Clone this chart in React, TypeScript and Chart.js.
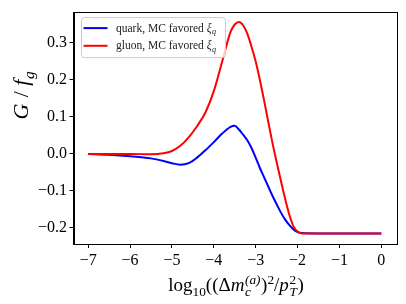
import React, { useEffect, useRef } from "react";
import { Chart, registerables } from "chart.js";

Chart.register(...registerables);

const xs = [-7, -6.5, -6, -5.5, -5.2, -5, -4.8, -4.6, -4.4, -4.2, -4, -3.8, -3.6, -3.5, -3.4, -3.3, -3.2, -3.1, -3.0, -2.9, -2.8, -2.7, -2.6, -2.5, -2.4, -2.3, -2.2, -2.1, -2.0, -1.9, -1.5, -1, -0.5, 0];
const quarkY = [0, -0.002, -0.006, -0.012, -0.019, -0.025, -0.029, -0.025, -0.010, 0.010, 0.032, 0.055, 0.073, 0.076, 0.066, 0.052, 0.037, 0.016, -0.010, -0.038, -0.063, -0.088, -0.113, -0.136, -0.158, -0.177, -0.192, -0.204, -0.211, -0.214, -0.215, -0.215, -0.215, -0.215];
const gluonY = [0, 0, 0, -0.001, 0.002, 0.008, 0.022, 0.045, 0.075, 0.112, 0.170, 0.250, 0.330, 0.350, 0.357, 0.348, 0.325, 0.290, 0.250, 0.200, 0.145, 0.087, 0.030, -0.022, -0.072, -0.120, -0.163, -0.195, -0.210, -0.215, -0.215, -0.215, -0.215, -0.215];
const seriesNames = ["quark, MC favored ", "gluon, MC favored "];
const seriesColors = ["#0000ff", "#ff0000"];
const xTicks = [-7, -6, -5, -4, -3, -2, -1, 0];
const yTicks = [-0.2, -0.1, 0, 0.1, 0.2, 0.3];

const SERIF = "'Liberation Serif', 'DejaVu Serif', serif";

type Run = { t: string; it?: boolean; pos?: "b" | "sub" | "sup"; stack?: boolean };

function runFont(r: Run, size: number) {
  const s = r.pos && r.pos !== "b" ? size * 0.7 : size;
  return `${r.it ? "italic " : ""}${s}px ${SERIF}`;
}
function runOffset(r: Run, size: number) {
  if (r.pos === "sub") return size * 0.25;
  if (r.pos === "sup") return -size * 0.38;
  return 0;
}
function layoutRuns(ctx: CanvasRenderingContext2D, runs: Run[], size: number) {
  const items: { r: Run; x: number }[] = [];
  let x = 0;
  let prevX = 0;
  let prevW = 0;
  for (const r of runs) {
    ctx.font = runFont(r, size);
    const w = ctx.measureText(r.t).width + (r.it ? size * 0.03 : 0);
    if (r.stack) {
      items.push({ r, x: prevX });
      const nw = Math.max(prevW, w);
      x = prevX + nw;
      prevW = nw;
    } else {
      items.push({ r, x });
      prevX = x;
      prevW = w;
      x += w;
    }
  }
  return { items, width: x };
}
function drawRuns(ctx: CanvasRenderingContext2D, runs: Run[], cx: number, cy: number, size: number, align: "center" | "left") {
  const { items, width } = layoutRuns(ctx, runs, size);
  const x0 = align === "center" ? cx - width / 2 : cx;
  ctx.textBaseline = "alphabetic";
  ctx.textAlign = "left";
  for (const it of items) {
    ctx.font = runFont(it.r, size);
    ctx.fillText(it.r.t, x0 + it.x, cy + runOffset(it.r, size));
  }
}

const xTitle: Run[] = [
  { t: "log" },
  { t: "10", pos: "sub" },
  { t: "((Δ" },
  { t: "m", it: true },
  { t: "c", it: true, pos: "sub" },
  { t: "(a)", it: true, pos: "sup", stack: true },
  { t: ")" },
  { t: "2", pos: "sup" },
  { t: "/" },
  { t: "p", it: true },
  { t: "T", it: true, pos: "sub" },
  { t: "2", pos: "sup", stack: true },
  { t: ")" },
];
const yTitle: Run[] = [
  { t: "G", it: true },
  { t: " / " },
  { t: "f", it: true },
  { t: "g", it: true, pos: "sub" },
];

const fmt = (v: number, d: number) => {
  const s = Math.abs(v).toFixed(d);
  return v < -1e-9 ? "\u2212" + s : s;
};

const decor = {
  id: "decor",
  afterDraw(chart: any) {
    const ctx: CanvasRenderingContext2D = chart.ctx;
    const a = chart.chartArea;
    ctx.save();
    ctx.strokeStyle = "#000";
    ctx.lineWidth = 1;
    ctx.strokeRect(Math.round(a.left) + 0.5, Math.round(a.top) + 0.5, Math.round(a.right - a.left), Math.round(a.bottom - a.top));
    ctx.fillStyle = "#000";
    drawRuns(ctx, xTitle, 236, 291, 19, "center");
    ctx.save();
    ctx.translate(28, 95);
    ctx.rotate(-Math.PI / 2);
    drawRuns(ctx, yTitle, 0, 0, 22, "center");
    ctx.restore();
    const lx = a.left + 7.5, ly = a.top + 5, lw = 144, lh = 40;
    ctx.beginPath();
    (ctx as any).roundRect(lx + 0.5, ly + 0.5, lw, lh, 3);
    ctx.fillStyle = "rgba(255,255,255,0.8)";
    ctx.fill();
    ctx.strokeStyle = "#cccccc";
    ctx.stroke();
    chart.data.datasets.forEach((ds: any, i: number) => {
      const y = ly + 11 + i * 17.7;
      ctx.strokeStyle = ds.borderColor;
      ctx.lineWidth = 2;
      ctx.beginPath();
      ctx.moveTo(lx + 2.5, y);
      ctx.lineTo(lx + 26.5, y);
      ctx.stroke();
      ctx.fillStyle = "#222";
      drawRuns(ctx, [{ t: ds.label }, { t: "ξ", it: true }, { t: "q", it: true, pos: "sub" }], lx + 35, y + 3.5, 11.5, "left");
    });
    ctx.restore();
  },
};

export default function App() {
  const ref = useRef<HTMLCanvasElement>(null);
  useEffect(() => {
    if (!ref.current) return;
    const chart = new Chart(ref.current, {
      type: "line",
      data: {
        datasets: [quarkY, gluonY].map((ys, i) => ({
          label: seriesNames[i],
          data: xs.map((x, j) => ({ x, y: ys[j] })),
          borderColor: seriesColors[i],
          backgroundColor: seriesColors[i],
          borderWidth: 2,
          pointRadius: 0,
          cubicInterpolationMode: "monotone" as const,
          fill: false,
          order: i === 0 ? 1 : 0,
        })),
      },
      options: {
        animation: false,
        responsive: false,
        devicePixelRatio: 1,
        layout: { padding: { top: 9.5, right: 10, left: 0, bottom: 0 } },
        plugins: { legend: { display: false }, tooltip: { enabled: false } },
        scales: {
          x: {
            type: "linear",
            min: -7.35,
            max: 0.35,
            afterBuildTicks: (s: any) => { s.ticks = xTicks.map((v) => ({ value: v })); },
            afterFit: (s: any) => { s.height = 60; },
            ticks: {
              callback: (v: any) => fmt(Number(v), 0),
              color: "#000",
              font: { family: SERIF, size: 16 },
              padding: 3,
              maxRotation: 0,
              autoSkip: false,
            },
            grid: { drawOnChartArea: false, drawTicks: true, tickLength: 4, color: "#000", tickColor: "#000" },
            border: { display: true, color: "#000" },
          },
          y: {
            type: "linear",
            min: -0.2435,
            max: 0.3835,
            afterBuildTicks: (s: any) => { s.ticks = yTicks.map((v) => ({ value: v })); },
            afterFit: (s: any) => { s.width = 73.5; },
            ticks: {
              callback: (v: any) => fmt(Number(v), 1),
              color: "#000",
              font: { family: SERIF, size: 16 },
              padding: 2.5,
              autoSkip: false,
            },
            grid: { drawOnChartArea: false, drawTicks: true, tickLength: 4, color: "#000", tickColor: "#000" },
            border: { display: true, color: "#000" },
          },
        },
      },
      plugins: [decor],
    });
    return () => chart.destroy();
  }, []);
  return (
    <div style={{ position: "fixed", left: 0, top: 0, width: 406, height: 304, background: "#fff" }}>
      <canvas ref={ref} width={406} height={304} style={{ width: 406, height: 304 }} />
    </div>
  );
}
